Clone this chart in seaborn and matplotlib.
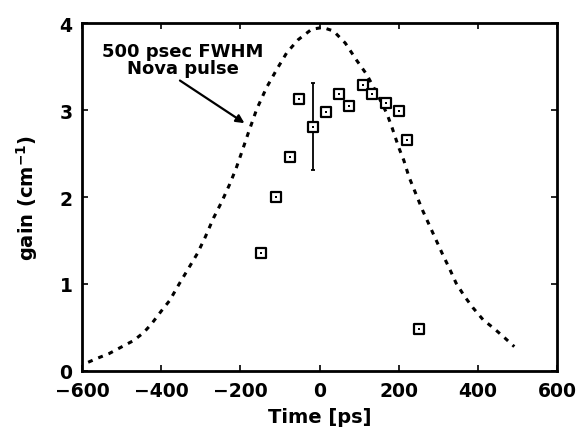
import numpy as np
import pandas as pd
import seaborn as sns
import matplotlib.pyplot as plt

t_meas = [-149, -111, -76, -51, -17, 17, 50, 75, 110, 133, 168, 201, 222, 250]
gain_meas = [1.36, 2.00, 2.46, 3.13, 2.81, 2.98, 3.18, 3.05, 3.29, 3.19, 3.08, 2.99, 2.66, 0.48]

# error bar on the point at -17 ps
err_t = [-17]
err_lo = [2.31]
err_hi = [3.31]

# 500 psec FWHM Nova pulse (dashed), traced points
t_pulse = [-585, -565, -532, -499, -470, -445, -425, -400, -379, -355, -330, -309, -289,
           -268, -248, -227, -211, -198, -180, -159, -134, -108, -83, -54, -20, 8, 35, 65,
           94, 119, 145, 170, 183, 200, 213, 226, 243, 260, 277, 294, 311, 328, 345, 366,
           387, 413, 443, 468, 492]
gain_pulse = [0.10, 0.14, 0.20, 0.28, 0.35, 0.44, 0.54, 0.69, 0.81, 1.00, 1.19, 1.35, 1.54,
              1.76, 1.94, 2.15, 2.33, 2.50, 2.74, 3.01, 3.26, 3.47, 3.66, 3.81, 3.93, 3.95, 3.91, 3.77,
              3.57, 3.41, 3.19, 2.96, 2.80, 2.57, 2.42, 2.23, 2.04, 1.85, 1.68, 1.51, 1.34, 1.18, 1.01, 0.86,
              0.73, 0.59, 0.48, 0.38, 0.28]

x_ticks = [-600, -400, -200, 0, 200, 400, 600]
y_ticks = [0, 1, 2, 3, 4]

df_meas = pd.DataFrame({'t': t_meas, 'gain': gain_meas})
df_pulse = pd.DataFrame({'t': t_pulse, 'gain': gain_pulse})

sns.set_style('ticks')
plt.rcParams['font.family'] = ['DejaVu Sans']
plt.rcParams['font.weight'] = 'bold'
plt.rcParams['text.color'] = 'black'
plt.rcParams['axes.labelcolor'] = 'black'
plt.rcParams['xtick.color'] = 'black'
plt.rcParams['ytick.color'] = 'black'
plt.rcParams['axes.edgecolor'] = 'black'

fig = plt.figure(figsize=(5.79, 4.31), dpi=100)
ax = fig.add_axes([0.142, 0.137, 0.820, 0.807])

# courbe de l'impulsion
sns.lineplot(data=df_pulse, x='t', y='gain', ax=ax, color='black', linewidth=2.2,
             linestyle=(0, (1.6, 2.0)), sort=False, dash_capstyle='butt')

# barre d'erreur
ax.errorbar(err_t, [(a + b) / 2 for a, b in zip(err_lo, err_hi)],
            yerr=[(b - a) / 2 for a, b in zip(err_lo, err_hi)],
            fmt='none', ecolor='black', elinewidth=1.3, capsize=1.2, capthick=1.3)

# points de mesure : carrés avec un point au centre
sns.scatterplot(data=df_meas, x='t', y='gain', ax=ax, marker='s', s=62,
                facecolor='white', edgecolor='black', linewidth=1.6, zorder=3)
sns.scatterplot(data=df_meas, x='t', y='gain', ax=ax, marker='s', s=3,
                color='black', linewidth=0, zorder=4)

# texte et flèche
ax.text(-345, 3.58, '500 psec FWHM\nNova pulse', ha='center', va='center',
        fontsize=13, fontweight='bold', linespacing=0.95)
ax.annotate('', xy=(-190, 2.85), xytext=(-353, 3.34),
            arrowprops=dict(arrowstyle='-|>', color='black', lw=1.6,
                            shrinkA=0, shrinkB=0, mutation_scale=12))

ax.set_xlim(-600, 600)
ax.set_ylim(0, 4)
ax.set_xticks(x_ticks)
ax.set_yticks(y_ticks)
ax.tick_params(direction='in', top=True, right=True, length=4, width=1.2,
               labelsize=13.5)
ax.tick_params(axis='x', pad=7)
ax.tick_params(axis='y', pad=7)
for lab in ax.get_xticklabels() + ax.get_yticklabels():
    lab.set_fontweight('bold')
ax.set_xlabel('Time [ps]', fontsize=14, fontweight='bold', labelpad=5)
ax.set_ylabel('gain (cm$^{\\mathbf{-1}}$)', fontsize=14, fontweight='bold', labelpad=14)
for sp in ax.spines.values():
    sp.set_linewidth(2)
    sp.set_visible(True)

plt.savefig('out.png', dpi=100)
